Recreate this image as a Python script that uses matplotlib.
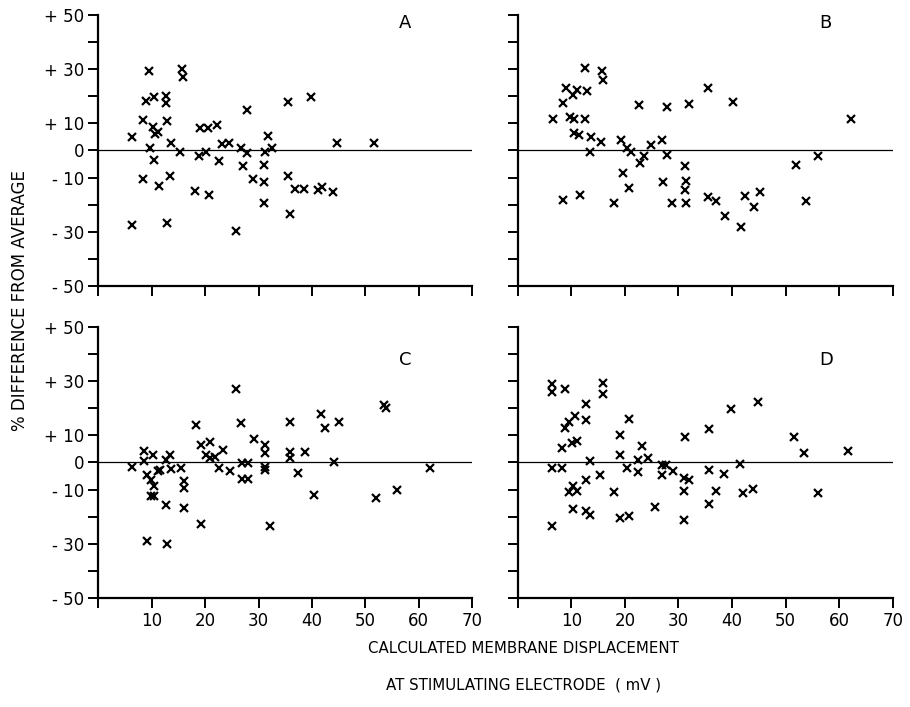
import numpy as np
import matplotlib.pyplot as plt

plt.rcParams['font.family'] = ['DejaVu Sans']

# Panel A
a_x = [6.4, 9.5, 8.4, 8.9, 10.5, 9.7, 10.3, 10.7, 11.1, 10.5, 8.4, 11.4, 12.6, 12.6,
       12.8, 13.7, 13.4, 12.8, 6.4, 15.6, 15.8, 15.3, 19.0, 20.6, 18.9, 20.2, 22.3, 22.6,
       18.1, 20.7, 23.2, 24.4, 25.7, 26.8, 27.8, 27.9, 27.0, 29.0, 31.2, 31.0, 31.0, 31.0,
       31.8, 32.5, 35.5, 39.9, 35.5, 35.9, 36.9, 38.5, 41.2, 41.8, 44.0, 44.7, 51.6]
a_y = [5.1, 29.2, 11.2, 18.2, 19.9, 1.0, 8.5, 6.0, 6.8, -3.4, -10.6, -13.1, 20.0, 17.4,
       10.7, 2.9, -9.3, -26.6, -27.4, 30.0, 27.1, -0.5, 8.2, 8.2, -1.9, -0.5, 9.3, -4.0,
       -14.8, -16.4, 2.5, 2.6, -29.6, 1.0, 15.0, -0.9, -5.6, -10.6, -0.5, -5.5, -11.8, -19.3,
       5.3, 1.0, 17.8, 19.9, -9.3, -23.4, -14.2, -14.2, -14.6, -13.3, -15.5, 2.9, 2.6]

# Panel B
b_x = [6.6, 8.5, 9.0, 10.3, 11.0, 13.0, 12.5, 9.8, 10.5, 12.6, 10.5, 11.5, 13.7, 13.4,
       8.5, 11.7, 15.8, 16.0, 15.5, 19.3, 20.4, 21.1, 19.6, 20.8, 18.0, 22.7, 22.9, 23.6,
       24.8, 26.9, 27.9, 27.9, 27.1, 28.7, 31.9, 31.3, 31.4, 31.2, 31.4, 35.6, 35.6, 37.1,
       38.6, 40.2, 41.7, 42.5, 44.1, 45.2, 51.9, 53.8, 56.1, 62.3]
b_y = [11.5, 17.5, 23.1, 20.6, 22.2, 21.9, 30.6, 12.3, 11.5, 11.5, 6.4, 5.6, 4.9, -0.6,
       -18.3, -16.4, 29.4, 25.9, 3.1, 4.0, 0.9, -0.4, -8.3, -13.8, -19.5, 16.9, -4.6, -1.9,
       2.1, 3.7, 16.0, -1.6, -11.5, -19.4, 17.0, -5.9, -11.1, -14.6, -19.4, 23.2, -17.0, -18.8,
       -24.1, 17.9, -28.1, -16.9, -21.0, -15.4, -5.3, -18.5, -2.2, 11.5]

# Panel C
c_x = [6.4, 8.5, 8.5, 9.1, 9.9, 10.3, 10.5, 9.9, 10.5, 11.1, 11.5, 9.1, 12.7, 12.9,
       12.6, 13.5, 13.7, 15.5, 16.0, 16.0, 16.0, 18.2, 19.2, 19.2, 20.1, 20.9, 21.0, 21.9,
       22.6, 23.4, 24.6, 25.7, 26.8, 26.9, 28.1, 26.9, 28.1, 29.1, 31.2, 31.2, 31.2, 31.2,
       32.1, 35.9, 35.9, 35.9, 37.3, 38.6, 40.3, 41.6, 42.5, 44.2, 45.1, 52.0, 53.4, 53.8,
       55.9, 62.0]
c_y = [-1.6, 4.3, 0.4, -4.5, -6.5, 2.7, -8.8, -12.5, -12.5, -3.3, -2.7, -28.8, -15.7, -30.1,
       1.0, 2.8, -2.5, -2.2, -6.7, -9.4, -16.8, 13.7, 6.5, -22.7, 2.7, 7.4, 1.6, 2.2,
       -2.2, 4.7, -3.1, 27.0, 14.7, -0.2, -0.2, -6.1, -6.1, 8.8, 6.5, 3.4, -1.6, -2.8,
       -23.3, 15.1, 3.7, 1.8, -3.7, 3.7, -12.0, 17.8, 12.9, 0.0, 15.0, -13.1, 21.2, 20.0,
       -10.1, -2.2]

# Panel D
d_x = [6.4, 6.4, 6.4, 6.4, 8.9, 8.3, 8.3, 8.9, 9.5, 10.7, 10.2, 11.0, 9.5, 10.3,
       11.1, 10.4, 12.8, 12.8, 12.8, 12.7, 13.5, 13.5, 15.4, 15.9, 15.9, 17.9, 19.0, 19.0,
       19.0, 20.3, 20.8, 20.8, 22.4, 22.4, 23.2, 24.3, 25.6, 26.9, 26.9, 27.7, 29.0, 31.2,
       31.0, 32.0, 31.0, 31.0, 35.7, 35.7, 35.7, 37.0, 38.5, 39.9, 41.5, 42.1, 44.0, 44.8,
       51.6, 53.4, 56.1, 61.6]
d_y = [29.1, 26.1, -2.2, -23.3, 27.3, 5.5, -2.1, 12.7, 14.8, 17.0, 7.3, 7.9, -10.9, -8.7,
       -10.7, -17.2, 21.5, 15.5, -6.3, -17.9, -19.4, 0.4, -4.5, 29.3, 25.2, -10.9, 10.3, 2.7,
       -20.6, -2.1, 16.1, -19.6, 0.8, -3.4, 6.1, 1.6, -16.4, -0.8, -4.5, -0.8, -3.0, 9.5,
       -5.7, -6.4, -10.7, -21.2, 12.5, -2.7, -15.4, -10.7, -4.2, 19.8, -0.4, -11.3, -9.7, 22.4,
       9.5, 3.4, -11.2, 4.2]

panels = [('A', a_x, a_y), ('B', b_x, b_y), ('C', c_x, c_y), ('D', d_x, d_y)]
ytick_vals = [50, 40, 30, 20, 10, 0, -10, -20, -30, -40, -50]
ytick_text = ['+ 50', '', '+ 30', '', '+ 10', '0', '- 10', '', '- 30', '', '- 50']
xtick_vals = [0, 10, 20, 30, 40, 50, 60, 70]
xtick_text = ['', '10', '20', '30', '40', '50', '60', '70']

fig = plt.figure(figsize=(9.10, 7.07), dpi=100)
boxes = [(0.108, 0.5955, 0.411, 0.3833),
         (0.569, 0.5955, 0.412, 0.3833),
         (0.108, 0.1542, 0.411, 0.3833),
         (0.569, 0.1542, 0.412, 0.3833)]

for i, (name, xs, ys) in enumerate(panels):
    ax = fig.add_axes(boxes[i])
    ax.axhline(0, color='black', lw=0.9)
    ax.plot(xs, ys, 'x', color='black', ms=6, mew=1.6)
    ax.set_xlim(0, 70)
    ax.set_ylim(-50, 50)
    for s in ['top', 'right']:
        ax.spines[s].set_visible(False)
    for s in ['left', 'bottom']:
        ax.spines[s].set_linewidth(1.6)
    ax.set_yticks(ytick_vals)
    ax.set_xticks(xtick_vals)
    ax.tick_params(direction='out', length=7, width=1.4, labelsize=12, pad=3)
    if i % 2 == 0:
        ax.set_yticklabels(ytick_text)
    else:
        ax.set_yticklabels([])
    if i >= 2:
        ax.set_xticklabels(xtick_text, fontsize=12)
    else:
        ax.set_xticklabels([])
    ly = 47 if i < 2 else 38
    ax.text(57.5, ly, name, fontsize=13, ha='center', va='center')

fig.text(0.022, 0.575, '% DIFFERENCE FROM AVERAGE', rotation=90,
         ha='center', va='center', fontsize=12)
fig.text(0.575, 0.083, 'CALCULATED MEMBRANE DISPLACEMENT', ha='center', va='center',
         fontsize=10.8)
fig.text(0.575, 0.031, 'AT STIMULATING ELECTRODE  ( mV )', ha='center', va='center',
         fontsize=10.8)

plt.savefig('out.png', dpi=100)
